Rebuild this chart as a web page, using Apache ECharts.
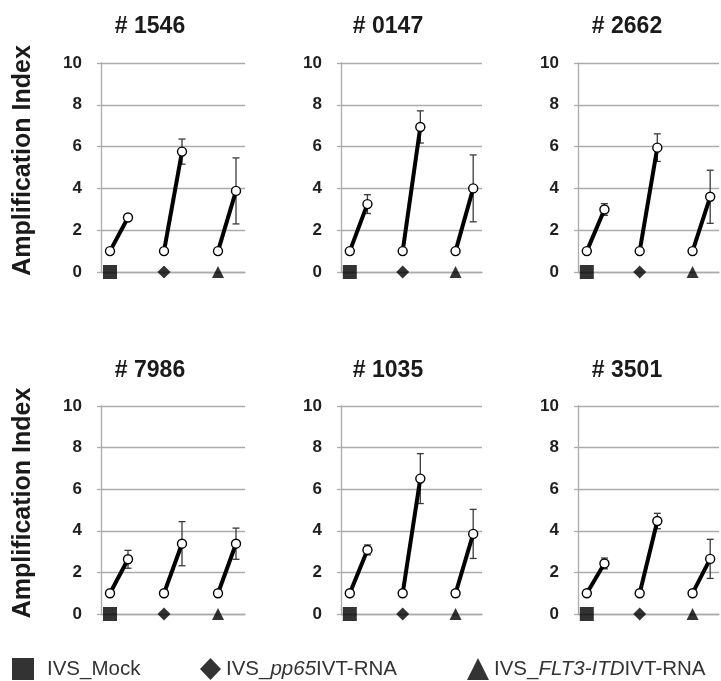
<!DOCTYPE html>
<html>
<head>
<meta charset="utf-8">
<script src="https://cdn.jsdelivr.net/npm/echarts@6/dist/echarts.min.js"></script>
<style>
  html, body { margin: 0; padding: 0; background: #ffffff; }
  #chart { width: 721px; height: 681px; }
</style>
</head>
<body>
<div id="chart"></div>
<script>
// Donor panels, in reading order
const panelTitles = ['# 1546', '# 0147', '# 2662', '# 7986', '# 1035', '# 3501'];

// Eight x slots per panel: before/after for each stimulation, with a spacer between groups
const xSlots = ['Mock_0', 'Mock_1', '', 'pp65_0', 'pp65_1', ' ', 'FLT3_0', 'FLT3_1'];
const groupStartSlot = [0, 3, 6];

// Stimulation groups (legend entries)
const groupNames = ['IVS_Mock', 'IVS_pp65IVT-RNA', 'IVS_FLT3-ITDIVT-RNA'];
const groupIcons = ['rect', 'diamond', 'triangle'];

// Amplification index before stimulation (normalised)
const startValues = [1, 1, 1];

// Amplification index after stimulation, mean and error, one entry per donor
const mockMean = [2.61, 3.25, 2.99, 2.63, 3.08, 2.43];
const mockErr  = [0.12, 0.45, 0.28, 0.43, 0.24, 0.26];
const pp65Mean = [5.76, 6.94, 5.95, 3.38, 6.51, 4.47];
const pp65Err  = [0.60, 0.77, 0.66, 1.06, 1.20, 0.37];
const flt3Mean = [3.88, 4.00, 3.60, 3.38, 3.85, 2.65];
const flt3Err  = [1.58, 1.60, 1.27, 0.75, 1.18, 0.94];

// Y axis scale
const yMin = 0, yMax = 10, yStep = 2;
const yAxisTitle = 'Amplification Index';

const FONT = "'Liberation Sans', Arial, sans-serif";
const GRID_GRAY = '#ababab';

const colLeft  = [101, 341, 578];
const colWidth = [144, 141, 141];
const rowTop   = [63, 406];
const rowHeight = [209, 208];
const titleCenterX = [150, 388, 627];
const titleTop = [15, 359];

const means = [mockMean, pp65Mean, flt3Mean];
const errs  = [mockErr, pp65Err, flt3Err];

const grids = [], xAxes = [], yAxes = [], titles = [], series = [];

function renderErrorBar(params, api) {
  const x = api.value(0);
  const lo = api.coord([x, api.value(1)]);
  const hi = api.coord([x, api.value(2)]);
  const half = 3.5;
  const style = { stroke: '#3a3a3a', lineWidth: 1.3 };
  return {
    type: 'group',
    children: [
      { type: 'line', shape: { x1: hi[0], y1: hi[1], x2: lo[0], y2: lo[1] }, style: style },
      { type: 'line', shape: { x1: hi[0] - half, y1: hi[1], x2: hi[0] + half, y2: hi[1] }, style: style },
      { type: 'line', shape: { x1: lo[0] - half, y1: lo[1], x2: lo[0] + half, y2: lo[1] }, style: style }
    ]
  };
}

panelTitles.forEach(function (t, p) {
  const row = Math.floor(p / 3), col = p % 3;
  grids.push({
    left: colLeft[col], top: rowTop[row],
    width: colWidth[col], height: rowHeight[row],
    containLabel: false
  });
  titles.push({
    text: t,
    left: titleCenterX[col], top: titleTop[row],
    textAlign: 'center', padding: 0,
    textStyle: { fontFamily: FONT, fontSize: 23, fontWeight: 'bold', color: '#1a1a1a' }
  });
  xAxes.push({
    type: 'category', gridIndex: p, data: xSlots, boundaryGap: true,
    axisLine: { show: true, lineStyle: { color: GRID_GRAY, width: 1.3 } },
    axisTick: { show: false }, axisLabel: { show: false }, splitLine: { show: false }
  });
  const yAx = {
    type: 'value', gridIndex: p, min: yMin, max: yMax, interval: yStep,
    axisLine: { show: true, lineStyle: { color: GRID_GRAY, width: 1.3 } },
    axisTick: { show: true, length: 4, lineStyle: { color: GRID_GRAY, width: 1.3 } },
    splitLine: { show: true, lineStyle: { color: GRID_GRAY, width: 1.3 } },
    axisLabel: { margin: 19, fontFamily: FONT, fontSize: 17, fontWeight: 'bold', color: '#1f1f1f' }
  };
  if (col === 0) {
    yAx.name = yAxisTitle;
    yAx.nameLocation = 'middle';
    yAx.nameRotate = 90;
    yAx.nameGap = 65;
    yAx.nameTextStyle = { fontFamily: FONT, fontSize: 25, fontWeight: 'bold', color: '#1a1a1a', padding: [0, 0, 0, 14] };
  }
  yAxes.push(yAx);

  for (let g = 0; g < 3; g++) {
    const s0 = groupStartSlot[g];
    const m = means[g][p], e = errs[g][p];
    // error bar on the post-stimulation point
    series.push({
      type: 'custom', xAxisIndex: p, yAxisIndex: p, z: 1,
      renderItem: renderErrorBar,
      data: [[s0 + 1, m - e, m + e]],
      silent: true
    });
    // before → after connecting line with open circles
    series.push({
      type: 'line', xAxisIndex: p, yAxisIndex: p, z: 3,
      data: [[s0, startValues[g]], [s0 + 1, m]],
      symbol: 'circle', symbolSize: 9,
      lineStyle: { color: '#000', width: 4 },
      itemStyle: { color: '#ffffff', borderColor: '#000', borderWidth: 1.4 },
      silent: true
    });
    // group marker on the baseline
    series.push({
      type: 'scatter', name: groupNames[g], xAxisIndex: p, yAxisIndex: p, z: 4,
      data: [[s0, 0]],
      symbol: groupIcons[g],
      symbolSize: [14, 13, 12][g],
      itemStyle: { color: '#000' },
      silent: true
    });
  }
});

const legendText = {
  'IVS_Mock': '{pad|}{n|IVS_Mock}',
  'IVS_pp65IVT-RNA': '{n|IVS_}{i|pp65}{n|IVT-RNA}',
  'IVS_FLT3-ITDIVT-RNA': '{n|IVS_}{i|FLT3-ITD}{n|IVT-RNA}'
};
const legendRich = {
  n: { fontFamily: FONT, fontSize: 20.5, color: '#333' },
  i: { fontFamily: FONT, fontSize: 20.5, color: '#333', fontStyle: 'italic' },
  pad: { width: 8 }
};
const legendLeft = [12, 200, 467];
const legendIconW = [22, 21, 22];
const legends = groupNames.map(function (name, g) {
  return {
    left: legendLeft[g], top: 658, padding: 0,
    itemWidth: legendIconW[g], itemHeight: 22,
    selectedMode: false,
    data: [{ name: name, icon: groupIcons[g], itemStyle: { color: '#000' } }],
    formatter: function (n) { return legendText[n]; },
    textStyle: { fontFamily: FONT, fontSize: 20.5, color: '#333', rich: legendRich }
  };
});

const chart = echarts.init(document.getElementById('chart'), null, { renderer: 'canvas' });
chart.setOption({
  backgroundColor: '#ffffff',
  animation: false,
  title: titles,
  legend: legends,
  grid: grids,
  xAxis: xAxes,
  yAxis: yAxes,
  series: series
});
</script>
</body>
</html>
